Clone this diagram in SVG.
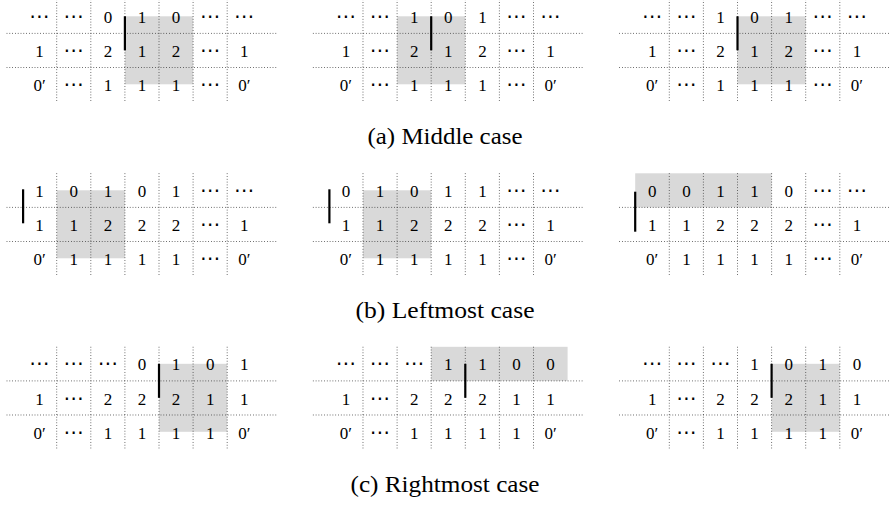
<svg xmlns="http://www.w3.org/2000/svg" xmlns:xlink="http://www.w3.org/1999/xlink" width="890" height="505" viewBox="0 0 890 505">
<style>
.g{stroke:#222;stroke-width:0.8;stroke-dasharray:0.8 2;fill:none}
.sh{fill:#d9d9d9}
.bar{stroke:#000;stroke-width:2.2}
text{font-family:'Liberation Serif','DejaVu Serif',serif;font-size:17px;text-anchor:middle;fill:#000}
text.d{font-family:'DejaVu Sans',sans-serif;font-size:20px}
text.cap{font-size:24px}
</style>
<defs>
<g id="grid">
<line class="g" x1="34.1" y1="0" x2="34.1" y2="102.3"/>
<line class="g" x1="68.2" y1="0" x2="68.2" y2="102.3"/>
<line class="g" x1="102.3" y1="0" x2="102.3" y2="102.3"/>
<line class="g" x1="136.4" y1="0" x2="136.4" y2="102.3"/>
<line class="g" x1="170.5" y1="0" x2="170.5" y2="102.3"/>
<line class="g" x1="204.6" y1="0" x2="204.6" y2="102.3"/>
<line class="g" x1="-16" y1="34.1" x2="254.7" y2="34.1"/>
<line class="g" x1="-16" y1="68.2" x2="254.7" y2="68.2"/>
</g>
</defs>

<!-- (a) Middle case -->
<g id="a1" transform="translate(22.6,-0.7)">
<rect class="sh" x="102.3" y="17" width="68.2" height="68"/>
<use xlink:href="#grid"/>
<text class="d" x="17" y="23.7">⋯</text><text class="d" x="51.2" y="23.7">⋯</text><text x="85.3" y="23.7">0</text><text x="119.4" y="23.7">1</text><text x="153.5" y="23.7">0</text><text class="d" x="187.6" y="23.7">⋯</text><text class="d" x="221.7" y="23.7">⋯</text>
<text x="17" y="57.8">1</text><text class="d" x="51.2" y="57.8">⋯</text><text x="85.3" y="57.8">2</text><text x="119.4" y="57.8">1</text><text x="153.5" y="57.8">2</text><text class="d" x="187.6" y="57.8">⋯</text><text x="221.7" y="57.8">1</text>
<text x="17" y="91.9">0′</text><text class="d" x="51.2" y="91.9">⋯</text><text x="85.3" y="91.9">1</text><text x="119.4" y="91.9">1</text><text x="153.5" y="91.9">1</text><text class="d" x="187.6" y="91.9">⋯</text><text x="221.7" y="91.9">0′</text>
<line class="bar" x1="102.3" y1="17" x2="102.3" y2="51"/>
</g>
<g id="a2" transform="translate(328.9,-0.7)">
<rect class="sh" x="68.2" y="17" width="68.2" height="68"/>
<use xlink:href="#grid"/>
<text class="d" x="17" y="23.7">⋯</text><text class="d" x="51.2" y="23.7">⋯</text><text x="85.3" y="23.7">1</text><text x="119.4" y="23.7">0</text><text x="153.5" y="23.7">1</text><text class="d" x="187.6" y="23.7">⋯</text><text class="d" x="221.7" y="23.7">⋯</text>
<text x="17" y="57.8">1</text><text class="d" x="51.2" y="57.8">⋯</text><text x="85.3" y="57.8">2</text><text x="119.4" y="57.8">1</text><text x="153.5" y="57.8">2</text><text class="d" x="187.6" y="57.8">⋯</text><text x="221.7" y="57.8">1</text>
<text x="17" y="91.9">0′</text><text class="d" x="51.2" y="91.9">⋯</text><text x="85.3" y="91.9">1</text><text x="119.4" y="91.9">1</text><text x="153.5" y="91.9">1</text><text class="d" x="187.6" y="91.9">⋯</text><text x="221.7" y="91.9">0′</text>
<line class="bar" x1="102.3" y1="17" x2="102.3" y2="51"/>
</g>
<g id="a3" transform="translate(635.2,-0.7)">
<rect class="sh" x="102.3" y="17" width="68.2" height="68"/>
<use xlink:href="#grid"/>
<text class="d" x="17" y="23.7">⋯</text><text class="d" x="51.2" y="23.7">⋯</text><text x="85.3" y="23.7">1</text><text x="119.4" y="23.7">0</text><text x="153.5" y="23.7">1</text><text class="d" x="187.6" y="23.7">⋯</text><text class="d" x="221.7" y="23.7">⋯</text>
<text x="17" y="57.8">1</text><text class="d" x="51.2" y="57.8">⋯</text><text x="85.3" y="57.8">2</text><text x="119.4" y="57.8">1</text><text x="153.5" y="57.8">2</text><text class="d" x="187.6" y="57.8">⋯</text><text x="221.7" y="57.8">1</text>
<text x="17" y="91.9">0′</text><text class="d" x="51.2" y="91.9">⋯</text><text x="85.3" y="91.9">1</text><text x="119.4" y="91.9">1</text><text x="153.5" y="91.9">1</text><text class="d" x="187.6" y="91.9">⋯</text><text x="221.7" y="91.9">0′</text>
<line class="bar" x1="102.3" y1="17" x2="102.3" y2="51"/>
</g>
<text id="capA" class="cap" x="445" y="144" textLength="155" lengthAdjust="spacingAndGlyphs">(a) Middle case</text>

<!-- (b) Leftmost case -->
<g id="b1" transform="translate(22.6,173.3)">
<rect class="sh" x="34.1" y="17" width="68.2" height="68"/>
<use xlink:href="#grid"/>
<text x="17" y="23.7">1</text><text x="51.2" y="23.7">0</text><text x="85.3" y="23.7">1</text><text x="119.4" y="23.7">0</text><text x="153.5" y="23.7">1</text><text class="d" x="187.6" y="23.7">⋯</text><text class="d" x="221.7" y="23.7">⋯</text>
<text x="17" y="57.8">1</text><text x="51.2" y="57.8">1</text><text x="85.3" y="57.8">2</text><text x="119.4" y="57.8">2</text><text x="153.5" y="57.8">2</text><text class="d" x="187.6" y="57.8">⋯</text><text x="221.7" y="57.8">1</text>
<text x="17" y="91.9">0′</text><text x="51.2" y="91.9">1</text><text x="85.3" y="91.9">1</text><text x="119.4" y="91.9">1</text><text x="153.5" y="91.9">1</text><text class="d" x="187.6" y="91.9">⋯</text><text x="221.7" y="91.9">0′</text>
<line class="bar" x1="0.5" y1="16" x2="0.5" y2="50"/>
</g>
<g id="b2" transform="translate(328.9,173.3)">
<rect class="sh" x="34.1" y="17" width="68.2" height="68"/>
<use xlink:href="#grid"/>
<text x="17" y="23.7">0</text><text x="51.2" y="23.7">1</text><text x="85.3" y="23.7">0</text><text x="119.4" y="23.7">1</text><text x="153.5" y="23.7">1</text><text class="d" x="187.6" y="23.7">⋯</text><text class="d" x="221.7" y="23.7">⋯</text>
<text x="17" y="57.8">1</text><text x="51.2" y="57.8">1</text><text x="85.3" y="57.8">2</text><text x="119.4" y="57.8">2</text><text x="153.5" y="57.8">2</text><text class="d" x="187.6" y="57.8">⋯</text><text x="221.7" y="57.8">1</text>
<text x="17" y="91.9">0′</text><text x="51.2" y="91.9">1</text><text x="85.3" y="91.9">1</text><text x="119.4" y="91.9">1</text><text x="153.5" y="91.9">1</text><text class="d" x="187.6" y="91.9">⋯</text><text x="221.7" y="91.9">0′</text>
<line class="bar" x1="0.5" y1="16" x2="0.5" y2="50"/>
</g>
<g id="b3" transform="translate(635.2,173.3)">
<rect class="sh" x="0" y="0" width="136.4" height="34.1"/>
<use xlink:href="#grid"/>
<text x="17" y="23.7">0</text><text x="51.2" y="23.7">0</text><text x="85.3" y="23.7">1</text><text x="119.4" y="23.7">1</text><text x="153.5" y="23.7">0</text><text class="d" x="187.6" y="23.7">⋯</text><text class="d" x="221.7" y="23.7">⋯</text>
<text x="17" y="57.8">1</text><text x="51.2" y="57.8">1</text><text x="85.3" y="57.8">2</text><text x="119.4" y="57.8">2</text><text x="153.5" y="57.8">2</text><text class="d" x="187.6" y="57.8">⋯</text><text x="221.7" y="57.8">1</text>
<text x="17" y="91.9">0′</text><text x="51.2" y="91.9">1</text><text x="85.3" y="91.9">1</text><text x="119.4" y="91.9">1</text><text x="153.5" y="91.9">1</text><text class="d" x="187.6" y="91.9">⋯</text><text x="221.7" y="91.9">0′</text>
<line class="bar" x1="0" y1="18.4" x2="0" y2="58.4"/>
</g>
<text id="capB" class="cap" x="445" y="318" textLength="179" lengthAdjust="spacingAndGlyphs">(b) Leftmost case</text>

<!-- (c) Rightmost case -->
<g id="c1" transform="translate(22.6,346.8)">
<rect class="sh" x="136.4" y="17" width="68.2" height="68"/>
<use xlink:href="#grid"/>
<text class="d" x="17" y="23.7">⋯</text><text class="d" x="51.2" y="23.7">⋯</text><text class="d" x="85.3" y="23.7">⋯</text><text x="119.4" y="23.7">0</text><text x="153.5" y="23.7">1</text><text x="187.6" y="23.7">0</text><text x="221.7" y="23.7">1</text>
<text x="17" y="57.8">1</text><text class="d" x="51.2" y="57.8">⋯</text><text x="85.3" y="57.8">2</text><text x="119.4" y="57.8">2</text><text x="153.5" y="57.8">2</text><text x="187.6" y="57.8">1</text><text x="221.7" y="57.8">1</text>
<text x="17" y="91.9">0′</text><text class="d" x="51.2" y="91.9">⋯</text><text x="85.3" y="91.9">1</text><text x="119.4" y="91.9">1</text><text x="153.5" y="91.9">1</text><text x="187.6" y="91.9">1</text><text x="221.7" y="91.9">0′</text>
<line class="bar" x1="136.4" y1="17" x2="136.4" y2="51"/>
</g>
<g id="c2" transform="translate(328.9,346.8)">
<rect class="sh" x="102.3" y="0" width="136.4" height="34.1"/>
<use xlink:href="#grid"/>
<text class="d" x="17" y="23.7">⋯</text><text class="d" x="51.2" y="23.7">⋯</text><text class="d" x="85.3" y="23.7">⋯</text><text x="119.4" y="23.7">1</text><text x="153.5" y="23.7">1</text><text x="187.6" y="23.7">0</text><text x="221.7" y="23.7">0</text>
<text x="17" y="57.8">1</text><text class="d" x="51.2" y="57.8">⋯</text><text x="85.3" y="57.8">2</text><text x="119.4" y="57.8">2</text><text x="153.5" y="57.8">2</text><text x="187.6" y="57.8">1</text><text x="221.7" y="57.8">1</text>
<text x="17" y="91.9">0′</text><text class="d" x="51.2" y="91.9">⋯</text><text x="85.3" y="91.9">1</text><text x="119.4" y="91.9">1</text><text x="153.5" y="91.9">1</text><text x="187.6" y="91.9">1</text><text x="221.7" y="91.9">0′</text>
<line class="bar" x1="136.4" y1="17" x2="136.4" y2="51"/>
</g>
<g id="c3" transform="translate(635.2,346.8)">
<rect class="sh" x="136.4" y="17" width="68.2" height="68"/>
<use xlink:href="#grid"/>
<text class="d" x="17" y="23.7">⋯</text><text class="d" x="51.2" y="23.7">⋯</text><text class="d" x="85.3" y="23.7">⋯</text><text x="119.4" y="23.7">1</text><text x="153.5" y="23.7">0</text><text x="187.6" y="23.7">1</text><text x="221.7" y="23.7">0</text>
<text x="17" y="57.8">1</text><text class="d" x="51.2" y="57.8">⋯</text><text x="85.3" y="57.8">2</text><text x="119.4" y="57.8">2</text><text x="153.5" y="57.8">2</text><text x="187.6" y="57.8">1</text><text x="221.7" y="57.8">1</text>
<text x="17" y="91.9">0′</text><text class="d" x="51.2" y="91.9">⋯</text><text x="85.3" y="91.9">1</text><text x="119.4" y="91.9">1</text><text x="153.5" y="91.9">1</text><text x="187.6" y="91.9">1</text><text x="221.7" y="91.9">0′</text>
<line class="bar" x1="136.4" y1="17" x2="136.4" y2="51"/>
</g>
<text id="capC" class="cap" x="445" y="491.5" textLength="189" lengthAdjust="spacingAndGlyphs">(c) Rightmost case</text>
</svg>
